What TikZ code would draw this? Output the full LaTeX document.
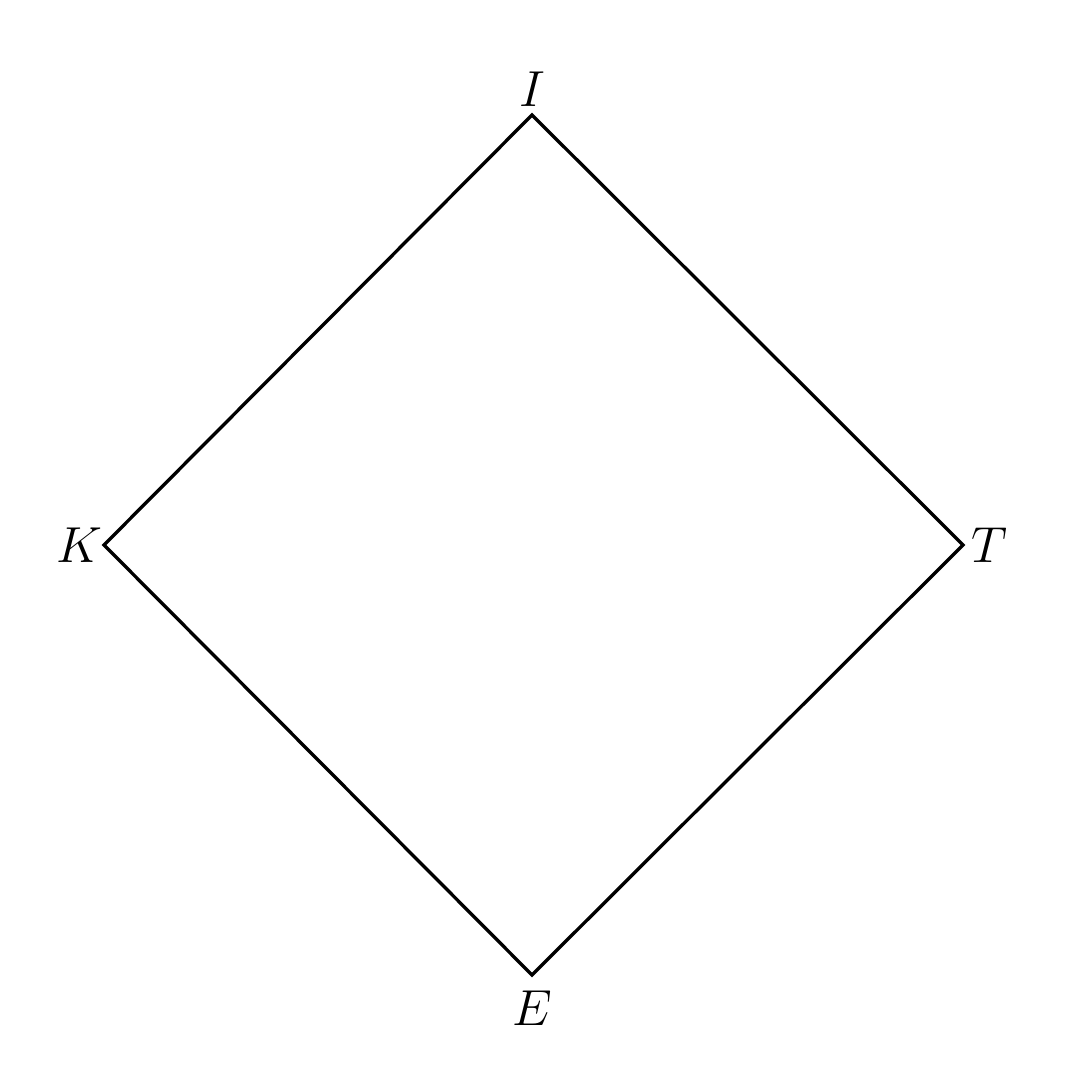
\documentclass[tikz,border=0pt]{standalone}
\usepackage{amsmath, amssymb}
\usepackage{tikz}
\usetikzlibrary{calc, positioning}

\begin{document}
\begin{tikzpicture}[>=stealth, font=\Large]

    % =================================================================
    % 1. KHUNG HINH
    % =================================================================
    \useasboundingbox (0,0) rectangle (10.80,10.92);

    % =================================================================
    % 2. TOA DO CAC DINH
    % =================================================================
    \coordinate (I) at (5.32,9.77);
    \coordinate (K) at (1.04,5.47);
    \coordinate (T) at (9.63,5.47);
    \coordinate (E) at (5.32,1.17);

    % =================================================================
    % 3. VE HINH VUONG
    % =================================================================
    \draw[line width=0.95pt, line join=miter] (I) -- (T) -- (E) -- (K) -- cycle;

    % =================================================================
    % 4. NHAN CAC DINH
    % =================================================================
    \node[above=-1pt] (labI) at (I) {$I$};
    \node[left=-3pt] (labK) at (K) {$K$};
    \node[right=-1pt] (labT) at (T) {$T$};
    \node[below=1pt] (labE) at (E) {$E$};

\end{tikzpicture}
\end{document}
